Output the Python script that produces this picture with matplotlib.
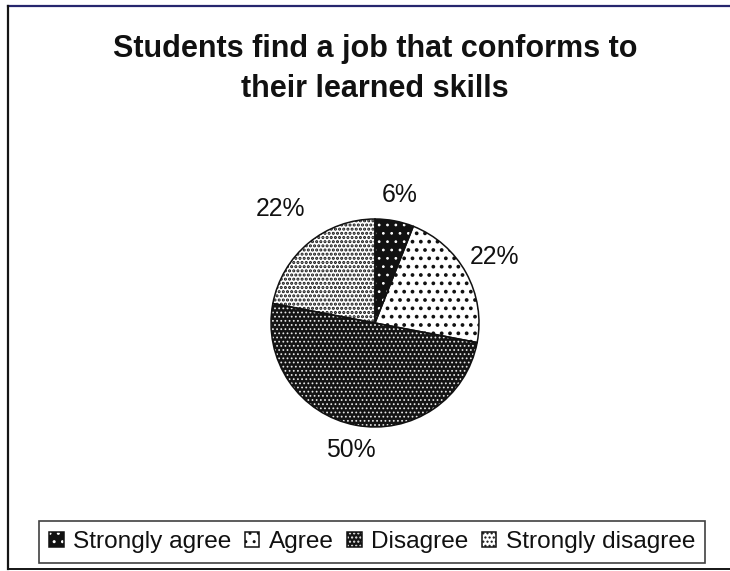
import matplotlib
matplotlib.use("Agg")
import matplotlib.pyplot as plt
from matplotlib.lines import Line2D
import numpy as np

plt.rcParams['font.family'] = ['Liberation Sans', 'DejaVu Sans']

# Survey answers
categories = ["Strongly agree", "Agree", "Disagree", "Strongly disagree"]
shares = [6, 22, 50, 22]
title = "Students find a job that conforms to\ntheir learned skills"

# Fill colour, dot colour and dot density of each slice
face_colors = ["#111111", "#ffffff", "#141414", "#ffffff"]
dot_colors = ["#ffffff", "#111111", "#e6e6e6", "#111111"]
hatches = ["..", "..", "....", "...."]
# dots on dark fills are drawn thinner than dots on white fills
on_dark = [True, False, True, False]
label_dist = [1.25, 1.31, 1.24, 1.42]

W, H = 730, 571
fig = plt.figure(figsize=(W / 100, H / 100), dpi=100)
fig.patch.set_facecolor("white")

# Pie axes: centre (375, 323) px, radius 104 px
R = 104
lim = 1.6
cx, cy = 375, H - 323
side = 2 * lim * R
ax = fig.add_axes([(cx - side / 2) / W, (cy - side / 2) / H, side / W, side / H])

common = dict(startangle=90, counterclock=False, radius=1.0)

# base fills
fills, _ = ax.pie(shares, colors=face_colors,
                  wedgeprops=dict(edgecolor="none", linewidth=0), **common)


def dot_layer(select, lw):
    with plt.rc_context({'hatch.linewidth': lw}):
        hs = [h if s else None for h, s in zip(hatches, select)]
        ws, _ = ax.pie(shares, colors=face_colors, hatch=hs, **common)
    for w, dc, s in zip(ws, dot_colors, select):
        w.set_facecolor("none")
        w.set_edgecolor(dc if s else "none")
        w.set_linewidth(0)
    return ws


light_dots = dot_layer(on_dark, 0.75)
dark_dots = dot_layer([not d for d in on_dark], 1.5)
dots = [l if d else k for l, k, d in zip(light_dots, dark_dots, on_dark)]

# outlines
outl, _ = ax.pie(shares, colors=face_colors,
                 wedgeprops=dict(edgecolor="#111111", linewidth=1.1), **common)
for w in outl:
    w.set_facecolor("none")

# percentage labels outside the slices
for w, v, d in zip(fills, shares, label_dist):
    mid = np.deg2rad((w.theta1 + w.theta2) / 2)
    ax.text(d * np.cos(mid), d * np.sin(mid), f"{v}%",
            ha="center", va="center", fontsize=17.8, color="#111111")

ax.set_xlim(-lim, lim)
ax.set_ylim(-lim, lim)
ax.set_aspect("equal")
ax.axis("off")

fig.text(375 / W, 1 - 69 / H, title, ha="center", va="center",
         fontsize=22, fontweight="bold", linespacing=1.45, color="#111111")

handles = list(zip(fills, dots, outl))
leg = fig.legend(handles, categories, loc="center",
                 bbox_to_anchor=(372 / W, 1 - 542 / H), ncol=4,
                 fontsize=17.6, frameon=True, fancybox=False,
                 handlelength=0.6, handleheight=0.6, handletextpad=0.38,
                 columnspacing=0.55, borderpad=0.42)
leg.get_frame().set_edgecolor("#111111")
leg.get_frame().set_linewidth(1.2)
for t in leg.get_texts():
    t.set_color("#111111")

# chart frame
fig.add_artist(Line2D([8 / W, 1.0], [1 - 6 / H, 1 - 6 / H], transform=fig.transFigure,
                      color="#26266e", linewidth=1.6))
fig.add_artist(Line2D([8 / W, 8 / W], [1 - 6 / H, 1 - 569 / H], transform=fig.transFigure,
                      color="#151515", linewidth=1.6))
fig.add_artist(Line2D([8 / W, 1.0], [1 - 569 / H, 1 - 569 / H], transform=fig.transFigure,
                      color="#151515", linewidth=1.4))

fig.savefig("out.png", dpi=100)
